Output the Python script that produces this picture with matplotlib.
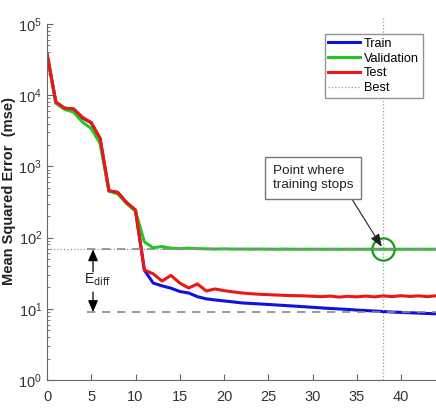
import numpy as np
import matplotlib
matplotlib.use('Agg')
from matplotlib import pyplot as plt

plt.rcParams['font.family'] = ['Liberation Sans', 'DejaVu Sans']

# epochs and mse values
epochs = list(range(45))

train = [3.8e4, 8.0e3, 6.5e3, 6.4e3, 4.8e3, 4.1e3, 2.4e3, 455, 430, 310, 240,
         35, 23, 21, 19.5, 17.5, 16.7, 14.8, 13.8, 13.3, 12.9, 12.5, 12.1,
         11.9, 11.7, 11.5, 11.3, 11.1, 10.9, 10.7, 10.5, 10.3, 10.1, 9.95,
         9.8, 9.6, 9.45, 9.3, 9.15, 9.0, 8.9, 8.8, 8.7, 8.6, 8.5]

validation = [3.8e4, 7.7e3, 6.3e3, 5.8e3, 4.2e3, 3.4e3, 2.1e3, 450, 410, 300, 235,
              87, 72, 75, 71, 70, 71, 70, 69.5, 69, 69.5, 69, 69, 68.8, 69,
              68.8, 68.7, 68.9, 68.7, 68.6, 68.8, 68.6, 68.7, 68.6, 68.7, 68.6,
              68.6, 68.7, 68.5, 68.6, 68.7, 68.6, 68.7, 68.6, 68.7]

test = [3.8e4, 8.0e3, 6.6e3, 6.4e3, 4.9e3, 4.1e3, 2.5e3, 455, 430, 310, 245,
        35, 31, 24.5, 29.5, 23, 19.6, 22.3, 17.8, 19, 18, 17.3, 16.7,
        16.3, 16.0, 15.8, 15.6, 15.4, 15.3, 15.2, 15.0, 14.8, 15.1, 14.6,
        15.0, 14.7, 15.1, 14.7, 15.2, 14.8, 15.3, 14.9, 15.2, 14.8, 15.3]

best_epoch = 38
best_val = 68.5
train_at_best = 9.0

fig = plt.figure(figsize=(4.36, 4.15), dpi=100)
ax = fig.add_axes([47/436, 35/415, 389.4/436, 356/415])

ax.semilogy(epochs, train, color='#1010e0', lw=2.2, label='Train')
ax.semilogy(epochs, validation, color='#22c822', lw=2.2, label='Validation')
ax.semilogy(epochs, test, color='#ee1515', lw=2.2, label='Test')

# best lines
ax.plot([best_epoch, best_epoch], [1, 1.25e5], ':', color='#8fa0a0', lw=0.9,
        clip_on=False, label='Best')
ax.plot([0, 44], [best_val, best_val], ':', color='#909090', lw=0.9)
ax.plot(best_epoch, best_val, 'o', ms=16, mfc='none', mec='#179a17', mew=1.6)

# E_diff helper lines
ax.plot([4.5, 44], [best_val, best_val], '--', color='#8a8a8a', lw=1.2, dashes=(5, 4))
ax.plot([4.5, 44], [train_at_best, train_at_best], '--', color='#8a8a8a', lw=1.2, dashes=(5, 4))

ax.annotate('', xy=(5.2, best_val), xytext=(5.2, 33),
            arrowprops=dict(arrowstyle='-|>,head_length=0.7,head_width=0.3',
                            color='black', lw=0.9, shrinkA=0, shrinkB=0))
ax.annotate('', xy=(5.2, train_at_best), xytext=(5.2, 17.2),
            arrowprops=dict(arrowstyle='-|>,head_length=0.7,head_width=0.3',
                            color='black', lw=0.9, shrinkA=0, shrinkB=0))
ax.text(4.15, 25.5, r'E$_{\mathrm{diff}}$', fontsize=10, ha='left', va='center',
        color='#222222')

ax.annotate('Point where\ntraining stops', xy=(best_epoch, best_val),
            xytext=(25.5, 690), ha='left', va='center', fontsize=9.7, color='#222222',
            bbox=dict(boxstyle='square,pad=0.6', fc='white', ec='#777777', lw=1),
            arrowprops=dict(arrowstyle='-|>,head_length=0.8,head_width=0.3',
                            color='#222222', lw=0.8, relpos=(0.92, 0),
                            shrinkA=0, shrinkB=2))

ax.set_xlim(0, 44)
ax.set_ylim(1, 1e5)
ax.set_xticks(range(0, 45, 5))
ax.spines['top'].set_visible(False)
ax.spines['right'].set_visible(False)
for s in ['left', 'bottom']:
    ax.spines[s].set_color('#666666')
ax.tick_params(which='both', direction='in', colors='#666666', labelcolor='#333333',
               labelsize=10.5)
ax.tick_params(which='major', length=4)
ax.tick_params(which='minor', length=2)
ax.tick_params(axis='x', pad=7)

ax.set_ylabel('Mean Squared Error  (mse)', fontsize=10.5, fontweight='bold',
              color='#222222')
ax.yaxis.set_label_coords(-31/389.4, 0.53)

leg = ax.legend(loc='upper right', bbox_to_anchor=(423/436, 381/415),
                bbox_transform=fig.transFigure, fontsize=9.2, frameon=True,
                fancybox=False, edgecolor='#777777', handlelength=2.5,
                borderpad=0.3, labelspacing=0.22, handletextpad=0.3,
                borderaxespad=0)
leg.get_frame().set_linewidth(1)
for h in leg.get_lines()[:3]:
    h.set_linewidth(2.2)

plt.savefig('out.png', dpi=100)
